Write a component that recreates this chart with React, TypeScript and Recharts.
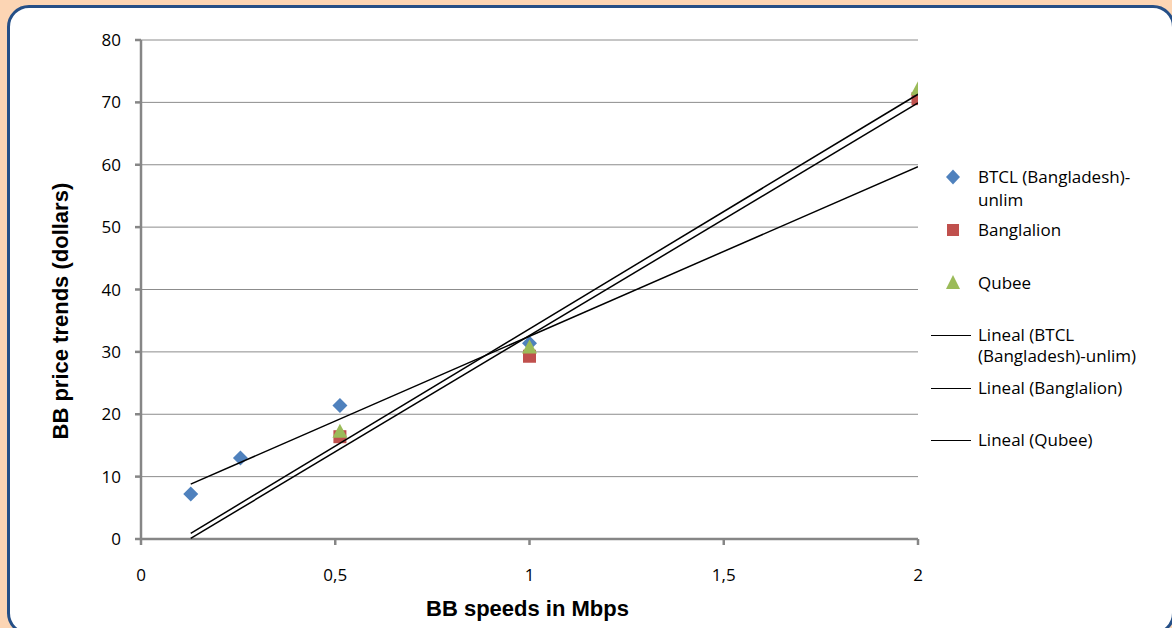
import React from 'react';
import { ComposedChart, Scatter, XAxis, YAxis, CartesianGrid, Legend } from 'recharts';

const btclX = [0.128, 0.256, 0.512, 1];
const btclY = [7.2, 13.0, 21.4, 31.4];
const banglalionX = [0.512, 1, 2];
const banglalionY = [16.4, 29.3, 70.6];
const qubeeX = [0.512, 1, 2];
const qubeeY = [17.2, 30.7, 72.1];

const trendX = [0.128, 2];
const btclTrendY = [8.8, 59.7];
const banglalionTrendY = [0.1, 69.9];
const qubeeTrendY = [0.9, 71.3];

const xTicks = [0, 0.5, 1, 1.5, 2];
const yTicks = [0, 10, 20, 30, 40, 50, 60, 70, 80];

const zip = (xs: number[], ys: number[]) => xs.map((x, i) => ({ x, y: ys[i] }));

const btclData = zip(btclX, btclY);
const banglalionData = zip(banglalionX, banglalionY);
const qubeeData = zip(qubeeX, qubeeY);
const btclTrend = zip(trendX, btclTrendY);
const banglalionTrend = zip(trendX, banglalionTrendY);
const qubeeTrend = zip(trendX, qubeeTrendY);

const BLUE = '#4F81BD';
const RED = '#C0504D';
const GREEN = '#9BBB59';
const FONT = '"Open Sans", "Noto Sans", sans-serif';
const TITLE_FONT = '"Liberation Sans", Arial, sans-serif';

const Diamond = (p: any) => (
  <polygon points={`${p.cx},${p.cy - 7.5} ${p.cx + 7.5},${p.cy} ${p.cx},${p.cy + 7.5} ${p.cx - 7.5},${p.cy}`} fill={BLUE} />
);
const Square = (p: any) => (
  <rect x={p.cx - 6.5} y={p.cy - 6.5} width={13} height={13} fill={RED} />
);
const Triangle = (p: any) => (
  <polygon points={`${p.cx},${p.cy - 8} ${p.cx + 7.5},${p.cy + 6} ${p.cx - 7.5},${p.cy + 6}`} fill={GREEN} />
);
const NoDot = () => null;

const LegendContent = () => {
  const t: React.CSSProperties = { position: 'absolute', fontFamily: FONT, fontSize: 17, color: '#000', whiteSpace: 'nowrap', lineHeight: '21px' };
  const line = (top: number): React.CSSProperties => ({ position: 'absolute', left: 6, top, width: 40, height: 0, borderTop: '1.5px solid #000' });
  return (
    <div style={{ position: 'relative', width: 240, height: 320 }}>
      <svg style={{ position: 'absolute', left: 0, top: 0 }} width={60} height={320}>
        <polygon points="28,9.5 35,17 28,24.5 21,17" fill={BLUE} />
        <rect x={22} y={64} width={12} height={12} fill={RED} />
        <polygon points="28,115 35,129 21,129" fill={GREEN} />
      </svg>
      <div style={{ ...t, left: 53, top: 6 }}>BTCL (Bangladesh)-</div>
      <div style={{ ...t, left: 53, top: 29 }}>unlim</div>
      <div style={{ ...t, left: 53, top: 59 }}>Banglalion</div>
      <div style={{ ...t, left: 53, top: 112 }}>Qubee</div>
      <div style={line(175)} />
      <div style={{ ...t, left: 53, top: 164 }}>Lineal (BTCL</div>
      <div style={{ ...t, left: 53, top: 185 }}>(Bangladesh)-unlim)</div>
      <div style={line(228)} />
      <div style={{ ...t, left: 53, top: 217 }}>Lineal (Banglalion)</div>
      <div style={line(280)} />
      <div style={{ ...t, left: 53, top: 269 }}>Lineal (Qubee)</div>
    </div>
  );
};

export default function App() {
  return (
    <div style={{ position: 'fixed', left: 0, top: 0, width: 1172, height: 628, background: '#FCD5B4', overflow: 'hidden' }}>
      <div style={{ position: 'absolute', left: 7, top: 5, width: 1168, height: 630, boxSizing: 'border-box', border: '3px solid #254F87', borderRadius: 22, background: '#fff' }} />
      <div style={{ position: 'absolute', left: 0, top: 0 }}>
        <ComposedChart width={1172} height={628} margin={{ top: 40, right: 14, bottom: 0, left: 60 }}>
          <CartesianGrid vertical={false} stroke="#8C8C8C" strokeWidth={1} />
          <XAxis
            type="number"
            dataKey="x"
            domain={[0, 2]}
            ticks={xTicks}
            allowDataOverflow
            tickFormatter={(v: number) => String(v).replace('.', ',')}
            tick={{ fill: '#000', fontSize: 17, fontFamily: FONT }}
            axisLine={{ stroke: '#868686', strokeWidth: 2.5 }}
            tickLine={{ stroke: '#868686', strokeWidth: 2.5 }}
            tickSize={6}
            tickMargin={24}
            height={89}
            label={{ value: 'BB speeds in Mbps', position: 'insideBottom', offset: 12, dx: -2, style: { fontFamily: TITLE_FONT, fontWeight: 'bold', fontSize: 22, fill: '#000' } }}
          />
          <YAxis
            type="number"
            dataKey="y"
            domain={[0, 80]}
            ticks={yTicks}
            allowDataOverflow
            tick={{ fill: '#000', fontSize: 17, fontFamily: FONT }}
            axisLine={{ stroke: '#868686', strokeWidth: 2.5 }}
            tickLine={{ stroke: '#868686', strokeWidth: 2.5 }}
            tickSize={6}
            tickMargin={14}
            width={81}
            label={{ value: 'BB price trends (dollars)', angle: -90, position: 'insideLeft', offset: 0, dy: 150, style: { fontFamily: TITLE_FONT, fontWeight: 'bold', fontSize: 22, fill: '#000' } }}
          />
          <Legend
            layout="vertical"
            verticalAlign="top"
            align="right"
            wrapperStyle={{ left: 925, top: 160, width: 240 }}
            content={() => <LegendContent />}
          />
          <Scatter name="BTCL (Bangladesh)-unlim" data={btclData} shape={Diamond} isAnimationActive={false} />
          <Scatter name="Banglalion" data={banglalionData} shape={Square} isAnimationActive={false} />
          <Scatter name="Qubee" data={qubeeData} shape={Triangle} isAnimationActive={false} />
          <Scatter name="Lineal (BTCL (Bangladesh)-unlim)" data={btclTrend} shape={NoDot} line={{ stroke: '#000', strokeWidth: 1.5 }} isAnimationActive={false} />
          <Scatter name="Lineal (Banglalion)" data={banglalionTrend} shape={NoDot} line={{ stroke: '#000', strokeWidth: 1.5 }} isAnimationActive={false} />
          <Scatter name="Lineal (Qubee)" data={qubeeTrend} shape={NoDot} line={{ stroke: '#000', strokeWidth: 1.5 }} isAnimationActive={false} />
        </ComposedChart>
      </div>
    </div>
  );
}
